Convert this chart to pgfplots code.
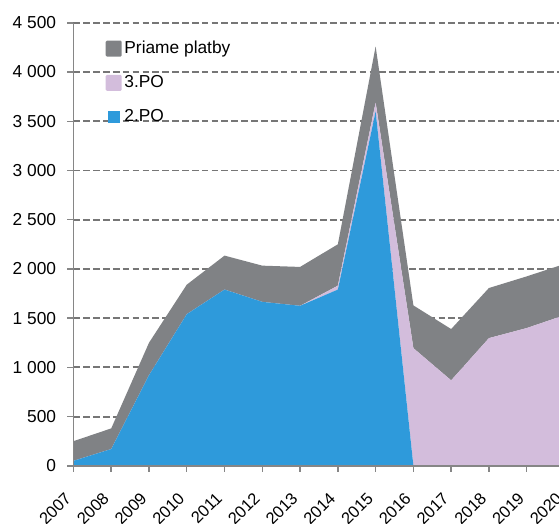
\documentclass[border=0pt]{standalone}
\usepackage{fontspec}
\setmainfont{Liberation Sans}
\usepackage{pgfplots}
\pgfplotsset{compat=1.18}

\definecolor{ppgray}{RGB}{128,130,133}
\definecolor{poblue}{RGB}{46,154,219}
\definecolor{polila}{RGB}{211,189,220}
\definecolor{axgray}{RGB}{134,134,134}
\definecolor{gridgray}{RGB}{118,118,118}

\begin{document}
\fontsize{13}{15}\selectfont
\begin{tikzpicture}
\begin{axis}[
    name=ax,
    scale only axis,
    width=368.2pt, height=332.2pt,
    xmin=2007, xmax=2020,
    ymin=0, ymax=4500,
    stack plots=y,
    axis x line*=bottom,
    axis y line*=left,
    axis line style={axgray, line width=1.2pt},
    tick style={axgray, line width=1.1pt},
    tick align=outside,
    major tick length=4.5pt,
    xtick={2007,...,2020},
    ytick={0,500,...,4500},
    ymajorgrids,
    grid style={gridgray, line width=1.4pt, dash pattern=on 5pt off 2.4pt},
    /pgf/number format/assume math mode=true,
    /pgf/number format/1000 sep={\ },
    xticklabel style={/pgf/number format/1000 sep={}, font=\fontsize{12.4}{14}\selectfont,
        xshift=-7.2pt, yshift=-8.5pt, rotate=45, anchor=north east},
    yticklabel style={xshift=-4pt},
    legend style={draw=none, fill=none, at={(rel axis cs:0,1)}, anchor=north west,
        xshift=24pt, yshift=-11.5pt, row sep=10.5pt, cells={anchor=west}, inner sep=0pt},
    reverse legend,
    legend image code/.code={\fill[#1, rounded corners=1pt] (0pt,-6pt) rectangle (12pt,6pt);},
]
\addplot[fill=poblue, draw=none,
    legend image code/.code={\fill[poblue] (1.5pt,-4.5pt) rectangle (10.5pt,4.5pt);}] coordinates {
    (2007,50) (2008,170) (2009,920) (2010,1540) (2011,1790) (2012,1665) (2013,1625)
    (2014,1790) (2015,3600) (2016,0) (2017,0) (2018,0) (2019,0) (2020,0)
} \closedcycle;
\addlegendentry{2.PO}
\addplot[fill=polila, draw=none] coordinates {
    (2007,0) (2008,0) (2009,0) (2010,0) (2011,0) (2012,0) (2013,0)
    (2014,40) (2015,90) (2016,1195) (2017,868) (2018,1297) (2019,1399) (2020,1530)
} \closedcycle;
\addlegendentry{3.PO}
\addplot[fill=ppgray, draw=none] coordinates {
    (2007,200) (2008,210) (2009,330) (2010,300) (2011,345) (2012,368) (2013,395)
    (2014,420) (2015,570) (2016,434) (2017,521) (2018,509) (2019,525) (2020,520)
} \closedcycle;
\addlegendentry{Priame platby}
\end{axis}
\draw[axgray, line width=1.2pt] (ax.south east) -- (ax.south west) -- (ax.north west);
\pgfresetboundingbox
\useasboundingbox (-55.1pt,-43pt) rectangle (364.1pt,349.3pt);
\end{tikzpicture}
\end{document}
